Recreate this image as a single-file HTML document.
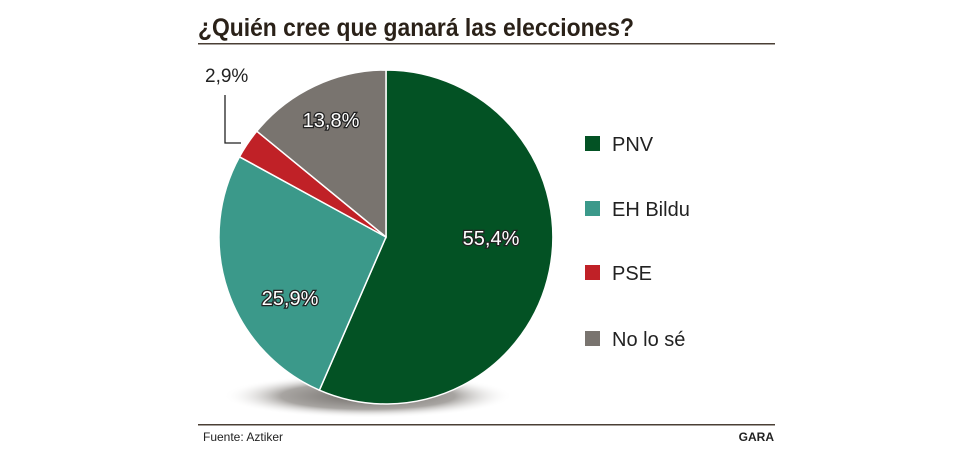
<!DOCTYPE html>
<html><head><meta charset="utf-8"><style>
body{margin:0;background:#fff;}
svg text{font-family:"Liberation Sans",sans-serif;}
</style></head><body>
<svg width="971" height="460" viewBox="0 0 971 460" xmlns="http://www.w3.org/2000/svg">
<defs>
<radialGradient id="sh" cx="0.5" cy="0.5" r="0.5">
<stop offset="0" stop-color="#6e6a66"/><stop offset="0.6" stop-color="#a8a5a2"/><stop offset="1" stop-color="#fff" stop-opacity="0"/>
</radialGradient>
</defs>
<text x="198" y="36" font-size="25" font-weight="bold" fill="#2a2118" textLength="436" lengthAdjust="spacingAndGlyphs">¿Quién cree que ganará las elecciones?</text>
<rect x="198" y="43" width="577" height="1.5" fill="#4a3f35"/>
<ellipse cx="368" cy="396" rx="145" ry="22" fill="url(#sh)"/>
<g stroke="#fff" stroke-width="1.5">
<path d="M386,237 L386,70 A167,167 0 1,1 319.4,390.2 Z" fill="#035224"/>
<path d="M386,237 L319.4,390.2 A167,167 0 0,1 239.5,156.8 Z" fill="#3b998a"/>
<path d="M386,237 L239.5,156.8 A167,167 0 0,1 256.8,131.2 Z" fill="#c02127"/>
<path d="M386,237 L256.8,131.2 A167,167 0 0,1 386,70 Z" fill="#79746f"/>
</g>
<g font-size="20" fill="#fff" stroke="#222" stroke-width="2.5" paint-order="stroke" text-anchor="middle">
<text x="491" y="245">55,4%</text>
<text x="331" y="127">13,8%</text>
<text x="290" y="305">25,9%</text>
</g>
<text x="205" y="82" font-size="19" fill="#222">2,9%</text>
<path d="M225,95 V143 H241" fill="none" stroke="#222" stroke-width="1.3"/>
<g font-size="20" fill="#222">
<rect x="585" y="136" width="15" height="15" fill="#035224"/><text x="612" y="151">PNV</text>
<rect x="585" y="201" width="15" height="15" fill="#3b998a"/><text x="612" y="216">EH Bildu</text>
<rect x="585" y="265" width="15" height="15" fill="#c02127"/><text x="612" y="280">PSE</text>
<rect x="585" y="331" width="15" height="15" fill="#79746f"/><text x="612" y="346">No lo sé</text>
</g>
<rect x="198" y="424" width="577" height="1.5" fill="#4a3f35"/>
<text x="203" y="441" font-size="12" fill="#222">Fuente: Aztiker</text>
<text x="774" y="441" font-size="12" font-weight="bold" fill="#222" text-anchor="end">GARA</text>
</svg>
</body></html>
